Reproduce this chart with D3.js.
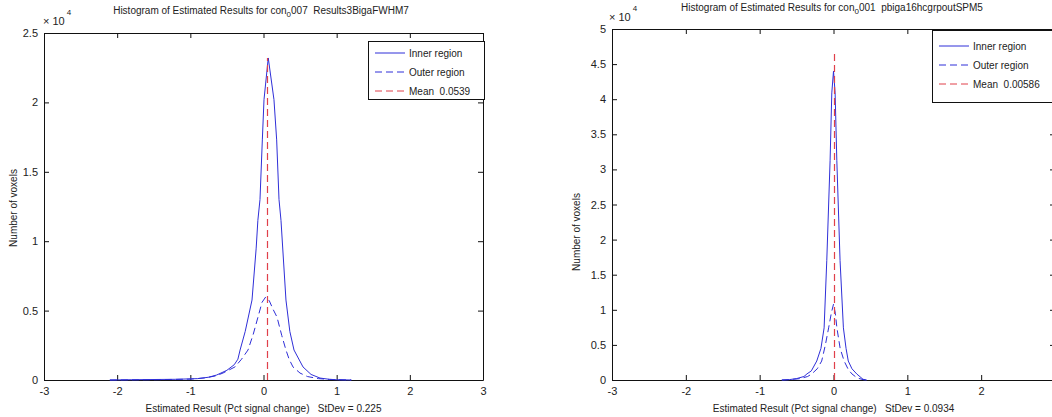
<!DOCTYPE html>
<html>
<head>
<meta charset="utf-8">
<script src="https://cdn.jsdelivr.net/npm/d3@7"></script>
<style>
  body { margin: 0; background: #fff; }
  svg { display: block; }
  text { font-family: "Liberation Sans", Arial, sans-serif; fill: #222; }
</style>
</head>
<body>
<svg id="chart" width="1052" height="417"></svg>
<script>
// values in units of 10^4 voxels, x in pct signal change
var leftInnerX = [-2.1, -1.8, -1.2, -0.9, -0.75, -0.64, -0.5, -0.4, -0.35, -0.32, -0.25, -0.157, -0.1, -0.077, -0.048, -0.016, 0.007, 0.065, 0.143, 0.18, 0.212, 0.239, 0.307, 0.36, 0.417, 0.54, 0.65, 0.772, 0.9, 1.0, 1.2];
var leftInnerY = [0.0, 0.002, 0.005, 0.01, 0.02, 0.036, 0.07, 0.11, 0.15, 0.216, 0.35, 0.576, 0.95, 1.15, 1.30, 1.73, 2.02, 2.32, 2.02, 1.73, 1.30, 1.15, 0.576, 0.35, 0.216, 0.094, 0.04, 0.014, 0.005, 0.002, 0.0];
var leftOuterX = [-2.1, -1.5, -1.0, -0.8, -0.65, -0.554, -0.39, -0.3, -0.212, -0.14, -0.075, -0.02, 0.03, 0.08, 0.13, 0.184, 0.25, 0.307, 0.35, 0.403, 0.499, 0.6, 0.75, 0.9, 1.2];
var leftOuterY = [0.0, 0.002, 0.006, 0.015, 0.03, 0.05, 0.094, 0.15, 0.216, 0.33, 0.454, 0.56, 0.598, 0.57, 0.51, 0.454, 0.32, 0.216, 0.15, 0.094, 0.05, 0.025, 0.01, 0.004, 0.0];
var leftMean = 0.0539, leftMeanTop = 2.32;

var rightInnerX = [-0.7, -0.6, -0.5, -0.4, -0.36, -0.3, -0.227, -0.17, -0.127, -0.091, -0.046, -0.023, 0.0, 0.022, 0.045, 0.089, 0.134, 0.17, 0.2, 0.25, 0.315, 0.4, 0.45];
var rightInnerY = [0.0, 0.005, 0.02, 0.05, 0.086, 0.13, 0.27, 0.45, 0.743, 1.70, 3.13, 4.09, 4.4, 4.09, 3.13, 1.70, 0.743, 0.45, 0.27, 0.16, 0.086, 0.01, 0.0];
var rightOuterX = [-0.7, -0.6, -0.45, -0.35, -0.295, -0.22, -0.16, -0.11, -0.066, -0.03, 0.0, 0.025, 0.046, 0.09, 0.144, 0.2, 0.25, 0.32, 0.4, 0.45];
var rightOuterY = [0.0, 0.005, 0.02, 0.05, 0.086, 0.16, 0.27, 0.5, 0.743, 0.95, 1.08, 0.95, 0.743, 0.45, 0.27, 0.15, 0.086, 0.03, 0.005, 0.0];
var rightMean = 0.00586, rightMeanTop = 4.65;

var xTicks = [-3, -2, -1, 0, 1, 2, 3];
var leftYTicks = [0, 0.5, 1, 1.5, 2, 2.5];
var rightYTicks = [0, 0.5, 1, 1.5, 2, 2.5, 3, 3.5, 4, 4.5, 5];
var legendLabels = ["Inner region", "Outer region"];

var svg = d3.select("#chart");
var blue = "#2f2fd8", red = "#e0404a";
var nb = "\u00a0";

function zip(xs, ys) { return xs.map((x, i) => [x, ys[i]]); }

function panel(o) {
  var g = svg.append("g");
  var x = d3.scaleLinear().domain([-3, 3]).range([o.left, o.right]);
  var y = d3.scaleLinear().domain([0, o.ymax]).range([380, o.top]);

  // box axes with inward ticks, like matlab
  g.append("g").attr("transform", "translate(0,380)")
    .call(d3.axisBottom(x).tickValues(xTicks).tickSizeInner(-5).tickSizeOuter(0).tickPadding(7).tickFormat(d => String(d)));
  g.append("g").attr("transform", "translate(0," + o.top + ")")
    .call(d3.axisTop(x).tickValues(xTicks).tickSizeInner(-5).tickSizeOuter(0).tickFormat(""));
  g.append("g").attr("transform", "translate(" + o.left + ",0)")
    .call(d3.axisLeft(y).tickValues(o.yTicks).tickSizeInner(-5).tickSizeOuter(0).tickPadding(6).tickFormat(d => String(d)));
  g.append("g").attr("transform", "translate(" + o.right + ",0)")
    .call(d3.axisRight(y).tickValues(o.yTicks).tickSizeInner(-5).tickSizeOuter(0).tickFormat(""));
  g.selectAll(".domain").attr("stroke", "#111");
  g.selectAll(".tick line").attr("stroke", "#111");
  g.selectAll(".tick text").attr("font-size", 11).attr("fill", "#222")
    .attr("font-family", "Liberation Sans, Arial, sans-serif");

  var line = d3.line().x(d => x(d[0])).y(d => y(d[1]));
  g.append("path").datum(zip(o.outerX, o.outerY)).attr("d", line)
    .attr("fill", "none").attr("stroke", blue).attr("stroke-width", 1).attr("stroke-dasharray", "7,4");
  g.append("path").datum(zip(o.innerX, o.innerY)).attr("d", line)
    .attr("fill", "none").attr("stroke", blue).attr("stroke-width", 1);
  var mx = Math.round(x(o.mean)) + 0.5;
  g.append("line").attr("x1", mx).attr("x2", mx)
    .attr("y1", y(0)).attr("y2", y(o.meanTop))
    .attr("stroke", red).attr("stroke-width", 1.2).attr("stroke-dasharray", "7,4");

  // titles and labels
  var t = g.append("text").attr("x", o.titleX).attr("y", o.titleY)
    .attr("text-anchor", "middle").attr("font-size", 10);
  t.append("tspan").text("Histogram of Estimated Results for con");
  t.append("tspan").attr("dy", 3).attr("font-size", 8).text("0");
  t.append("tspan").attr("dy", -3).text(o.titleRest);

  g.append("text").attr("x", (o.left + o.right) / 2).attr("y", 412)
    .attr("text-anchor", "middle").attr("font-size", 10)
    .text("Estimated Result (Pct signal change)" + nb + nb + nb + "StDev = " + o.stdev);

  g.append("text").attr("transform", "translate(" + o.ylabX + "," + o.ylabY + ") rotate(-90)")
    .attr("text-anchor", "middle").attr("font-size", 10).text("Number of voxels");

  var e = g.append("text").attr("x", o.expX).attr("y", o.expY).attr("font-size", 11);
  e.append("tspan").text("\u00d7 10");
  e.append("tspan").attr("dy", -10).attr("dx", 2).attr("font-size", 8).text("4");

  // legend
  var lg = g.append("g");
  lg.append("rect").attr("x", o.lx + 0.5).attr("y", o.ly + 0.5).attr("width", o.lw).attr("height", o.lh)
    .attr("fill", "#fff").attr("stroke", "#111").attr("stroke-width", 1);
  var items = [
    { label: legendLabels[0], color: blue, dash: null },
    { label: legendLabels[1], color: blue, dash: "7,4" },
    { label: "Mean" + nb + nb + o.meanLabel, color: red, dash: "7,4" }
  ];
  items.forEach((it, i) => {
    var yy = o.ly + o.first + i * o.step;
    lg.append("line").attr("x1", o.lx + 7).attr("x2", o.lx + 37).attr("y1", yy).attr("y2", yy)
      .attr("stroke", it.color).attr("stroke-width", 1).attr("stroke-dasharray", it.dash);
    lg.append("text").attr("x", o.lx + 41).attr("y", yy + 3.5).attr("font-size", 10).text(it.label);
  });
}

panel({
  left: 44, right: 483, top: 33, ymax: 2.5, yTicks: leftYTicks,
  innerX: leftInnerX, innerY: leftInnerY, outerX: leftOuterX, outerY: leftOuterY,
  mean: leftMean, meanTop: leftMeanTop, meanLabel: "0.0539",
  titleX: 261, titleY: 14, titleRest: "007" + nb + nb + "Results3BigaFWHM7",
  stdev: "0.225", ylabX: 17, ylabY: 208, expX: 43, expY: 25,
  lx: 368, ly: 41, lw: 116, lh: 58, first: 12, step: 19
});

panel({
  left: 612, right: 1055, top: 29, ymax: 5, yTicks: rightYTicks,
  innerX: rightInnerX, innerY: rightInnerY, outerX: rightOuterX, outerY: rightOuterY,
  mean: rightMean, meanTop: rightMeanTop, meanLabel: "0.00586",
  titleX: 832, titleY: 11, titleRest: "001" + nb + nb + "pbiga16hcgrpoutSPM5",
  stdev: "0.0934", ylabX: 580, ylabY: 232, expX: 609, expY: 21,
  lx: 932, ly: 30, lw: 122, lh: 72, first: 16, step: 19
});
</script>
</body>
</html>
